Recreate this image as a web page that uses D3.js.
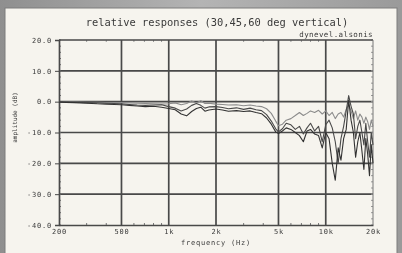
<!DOCTYPE html>
<html lang="en">
<head>
    <meta charset="UTF-8">
    <script src="https://cdn.jsdelivr.net/npm/d3@7"></script>
    <title>relative responses</title>
    <style>
        body { margin: 0; background: #a3a3a3; }
        svg { display: block; }
        text { font-family: 'DejaVu Sans Mono', 'Liberation Mono', monospace; fill: #3a3a3a; }
        .tick-label { font-size: 7px; letter-spacing: 0.8px; }
        .curve { fill: none; stroke-width: 1.1; stroke-linejoin: round; }
    </style>
</head>
<body>
<div id="chart"></div>
<script>
    // chart data
    const freqs = [200, 250, 300, 350, 400, 450, 500, 560, 630, 710, 800, 900, 1000, 1100, 1200, 1300, 1400, 1500,
        1600, 1700, 1800, 2000, 2200, 2400, 2700, 3000, 3300, 3600, 3900, 4200, 4500, 4800, 5000, 5300, 5600, 6000,
        6400, 6800, 7200, 7600, 8000, 8500, 9000, 9500, 10000, 10500, 11000, 11500, 12000, 12500, 13000, 13500,
        14000, 14500, 15000, 15500, 16000, 16500, 17000, 17500, 18000, 18500, 19000, 19500, 20000];

    const resp30 = [0.0, -0.1, -0.2, -0.2, -0.3, -0.3, -0.3, -0.4, -0.5, -0.6, -0.7, -0.8, -0.7, -0.4, -1.0, -0.6,
        0.2, -0.4, 0.3, -0.6, -0.5, -0.8, -0.9, -1.1, -1.0, -1.3, -1.1, -1.4, -1.6, -2.3, -3.8, -6.3, -7.8, -7.3,
        -6.0, -5.5, -4.5, -3.5, -4.5, -3.8, -3.0, -3.5, -2.8, -4.0, -3.0, -4.5, -3.5, -5.5, -4.0, -3.5, -5.0, -2.5,
        -1.0, -3.0, -5.5, -3.0, -6.0, -4.0, -5.0, -7.0, -5.0, -6.5, -9.0, -6.0, -8.0];

    const resp45 = [0.0, -0.2, -0.3, -0.4, -0.5, -0.6, -0.7, -0.9, -1.1, -1.2, -1.1, -1.0, -1.6, -2.1, -3.0, -2.4,
        -1.2, -0.6, -1.2, -2.1, -1.7, -1.6, -1.9, -2.3, -2.0, -2.5, -2.1, -2.6, -2.9, -4.2, -6.3, -8.8, -9.8, -8.8,
        -7.0, -7.5, -9.0, -8.0, -10.5, -8.5, -7.0, -9.5, -8.0, -13.0, -7.5, -6.0, -8.5, -13.0, -20.0, -12.0, -8.0,
        -3.0, 2.0, -1.5, -4.0, -12.0, -8.0, -6.0, -10.0, -14.0, -7.0, -13.0, -18.0, -10.0, -14.0];

    const resp60 = [-0.2, -0.3, -0.5, -0.7, -0.8, -0.9, -1.0, -1.2, -1.4, -1.6, -1.5, -1.8, -2.2, -2.6, -4.0, -4.6,
        -3.2, -2.2, -1.8, -3.1, -2.7, -2.4, -2.7, -3.1, -2.9, -3.2, -3.0, -3.5, -3.9, -5.3, -7.3, -9.8, -10.3, -9.5,
        -8.5, -9.0, -10.0, -11.0, -13.0, -9.5, -9.0, -10.5, -11.0, -15.0, -10.0, -12.0, -20.0, -25.5, -15.0, -19.0,
        -12.0, -9.0, 0.5, -6.0, -10.0, -18.0, -13.0, -10.0, -16.0, -22.0, -12.0, -17.0, -24.0, -14.0, -20.0];

    const yTicks = [20, 10, 0, -10, -20, -30, -40];
    const yTickLabels = ["20.0", "10.0", "0.0", "-10.0", "-20.0", "-30.0", "-40.0"];
    const xTicks = [200, 500, 1000, 2000, 5000, 10000, 20000];
    const xTickLabels = ["200", "500", "1k", "2k", "5k", "10k", "20k"];
    const xMinor = [300, 400, 600, 700, 800, 900, 3000, 4000, 6000, 7000, 8000, 9000];

    const width = 402, height = 253;
    const plot = { left: 59, right: 373, top: 40, bottom: 225 };

    const svg = d3.select("#chart").append("svg")
        .attr("width", width)
        .attr("height", height);

    const defs = svg.append("defs");
    // slight blur, the reference is a soft photo
    defs.append("filter").attr("id", "soft")
        .append("feGaussianBlur").attr("stdDeviation", 0.35);

    // grey frame + cream panel
    const grad = defs.append("linearGradient")
        .attr("id", "frameGrad").attr("x1", 0).attr("x2", 1).attr("y1", 0).attr("y2", 0);
    grad.append("stop").attr("offset", "0%").attr("stop-color", "#8f8f8f");
    grad.append("stop").attr("offset", "50%").attr("stop-color", "#b4b4b4");
    grad.append("stop").attr("offset", "100%").attr("stop-color", "#9a9a9a");
    svg.append("rect").attr("width", width).attr("height", height).attr("fill", "url(#frameGrad)");
    svg.append("rect")
        .attr("x", 5).attr("y", 8).attr("width", 392).attr("height", 250)
        .attr("fill", "#f6f4ee")
        .attr("stroke", "#7d7d7d").attr("stroke-width", 1);

    const g = svg.append("g").attr("filter", "url(#soft)");

    const x = d3.scaleLog().domain([200, 20000]).range([plot.left, plot.right]);
    const y = d3.scaleLinear().domain([-40, 20]).range([plot.bottom, plot.top]);

    // grid lines
    g.append("g").selectAll("line")
        .data(xTicks.slice(1, -1))
        .join("line")
        .attr("x1", d => x(d)).attr("x2", d => x(d))
        .attr("y1", plot.top).attr("y2", plot.bottom)
        .attr("stroke", "#484848").attr("stroke-width", 1.7);

    g.append("g").selectAll("line")
        .data(yTicks.slice(1, -1))
        .join("line")
        .attr("x1", plot.left).attr("x2", plot.right)
        .attr("y1", d => y(d)).attr("y2", d => y(d))
        .attr("stroke", "#484848").attr("stroke-width", 1.7);

    // minor ticks
    const yMinor = d3.range(-40, 20.1, 2);
    g.append("g").selectAll("line")
        .data(yMinor)
        .join("line")
        .attr("x1", plot.left).attr("x2", plot.left + 2)
        .attr("y1", d => y(d)).attr("y2", d => y(d))
        .attr("stroke", "#777");
    g.append("g").selectAll("line")
        .data(yMinor)
        .join("line")
        .attr("x1", plot.right - 2).attr("x2", plot.right)
        .attr("y1", d => y(d)).attr("y2", d => y(d))
        .attr("stroke", "#999");
    g.append("g").selectAll("line")
        .data(xMinor)
        .join("line")
        .attr("x1", d => x(d)).attr("x2", d => x(d))
        .attr("y1", plot.bottom - 2).attr("y2", plot.bottom)
        .attr("stroke", "#777");
    g.append("g").selectAll("line")
        .data(xMinor)
        .join("line")
        .attr("x1", d => x(d)).attr("x2", d => x(d))
        .attr("y1", plot.top).attr("y2", plot.top + 2)
        .attr("stroke", "#999");

    // frame
    g.append("line").attr("x1", plot.left).attr("x2", plot.right).attr("y1", plot.top).attr("y2", plot.top)
        .attr("stroke", "#484848").attr("stroke-width", 1.7);
    g.append("line").attr("x1", plot.right).attr("x2", plot.right).attr("y1", plot.top).attr("y2", plot.bottom)
        .attr("stroke", "#777").attr("stroke-width", 1);

    // axes
    const yAxis = d3.axisLeft(y)
        .tickValues(yTicks)
        .tickSize(4)
        .tickPadding(3)
        .tickFormat((d, i) => yTickLabels[i]);
    const yG = g.append("g").attr("transform", `translate(${plot.left},0)`).call(yAxis);

    const xAxis = d3.axisBottom(x)
        .tickValues(xTicks)
        .tickSize(0)
        .tickPadding(4)
        .tickFormat((d, i) => xTickLabels[i]);
    const xG = g.append("g").attr("transform", `translate(0,${plot.bottom})`).call(xAxis);

    [yG, xG].forEach(ax => {
        ax.select(".domain").attr("stroke", "#484848").attr("stroke-width", 1.7);
        ax.selectAll(".tick line").attr("stroke", "#484848");
        ax.selectAll(".tick text").attr("class", "tick-label").attr("fill", "#444");
    });
    yG.selectAll(".tick text").attr("text-anchor", "end");

    // curves
    const line = d3.line()
        .x((d, i) => x(freqs[i]))
        .y(d => y(d));

    const series = [
        { values: resp30, color: "#8c8c8c" },
        { values: resp45, color: "#4a4a4a" },
        { values: resp60, color: "#333" }
    ];

    g.append("g").selectAll("path")
        .data(series)
        .join("path")
        .attr("class", "curve")
        .attr("d", d => line(d.values))
        .attr("stroke", d => d.color);

    // texts
    g.append("text")
        .attr("x", 217).attr("y", 26)
        .attr("text-anchor", "middle")
        .style("font-size", "10.4px")
        .attr("fill", "#3a3a3a")
        .text("relative responses (30,45,60 deg vertical)");

    g.append("text")
        .attr("x", plot.right).attr("y", 37)
        .attr("text-anchor", "end")
        .style("font-size", "7.5px")
        .style("letter-spacing", "0.4px")
        .attr("fill", "#666")
        .text("dynevel.alsonis");

    g.append("text")
        .attr("transform", `translate(17,${(plot.top + plot.bottom) / 2 - 15}) rotate(-90)`)
        .attr("text-anchor", "middle")
        .style("font-size", "6px")
        .attr("fill", "#444")
        .text("amplitude (dB)");

    g.append("text")
        .attr("x", 216).attr("y", 245)
        .attr("text-anchor", "middle")
        .style("font-size", "7px")
        .style("letter-spacing", "0.8px")
        .attr("fill", "#444")
        .text("frequency (Hz)");
</script>
</body>
</html>
